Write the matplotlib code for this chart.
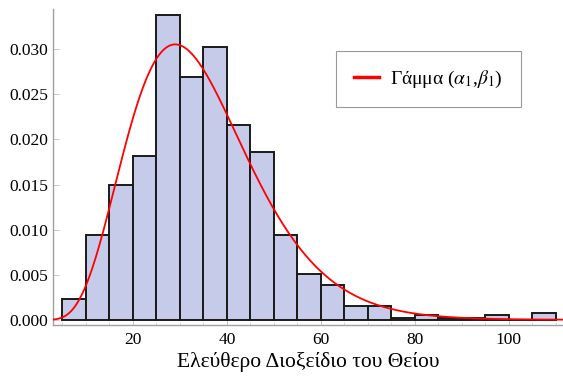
import math
import numpy as np
import matplotlib
matplotlib.use("Agg")
import matplotlib.pyplot as plt
from matplotlib.ticker import MultipleLocator

# ----------------------------------------------

bin_edges = [5, 10, 15, 20, 25, 30, 35, 40, 45, 50, 55, 60, 65, 70, 75, 80, 85, 90, 95, 100, 105, 110]
densities = [0.00232, 0.00943, 0.01497, 0.01817, 0.03385, 0.02691, 0.0303, 0.0216,
             0.01862, 0.00943, 0.00505, 0.0039, 0.00158, 0.00158, 0.00025, 0.0005,
             0.00025, 0.00025, 0.0005, 0.0, 0.0007]
gamma_alpha = 6.1
gamma_theta = 5.69

x_label = "Ελεύθερο Διοξείδιο του Θείου"
legend_label = r"Γάμμα ($\alpha_1$,$\beta_1$)"

# ----------------------------------------------

plt.rcParams['font.family'] = ['Liberation Serif', 'DejaVu Serif']
plt.rcParams['mathtext.fontset'] = 'stix'

fig = plt.figure(figsize=(5.63, 3.79), dpi=100)
ax = fig.add_axes([0.094, 0.142, 0.906, 0.835])

widths = np.diff(bin_edges)
ax.bar(bin_edges[:-1], densities, width=widths, align='edge',
       color='#c5cbe9', edgecolor='#1a1a1a', linewidth=1.4, zorder=2)

xs = np.linspace(3, 112, 600)
pdf = (xs ** (gamma_alpha - 1) * np.exp(-xs / gamma_theta)
       / (math.gamma(gamma_alpha) * gamma_theta ** gamma_alpha))
ax.plot(xs, pdf, color='#ff0000', linewidth=1.3, zorder=3, label=legend_label)

ax.set_xlim(3, 111.5)
ax.set_ylim(-0.0006, 0.0345)

for s in ['top', 'right']:
  ax.spines[s].set_visible(False)
for s in ['left', 'bottom']:
  ax.spines[s].set_color('#a0a0a0')
  ax.spines[s].set_linewidth(1.0)

ax.xaxis.set_major_locator(MultipleLocator(20))
ax.xaxis.set_minor_locator(MultipleLocator(5))
ax.yaxis.set_major_locator(MultipleLocator(0.005))
ax.yaxis.set_major_formatter(matplotlib.ticker.FormatStrFormatter('%.3f'))
ax.tick_params(which='both', direction='in', color='#c8c8c8', labelsize=12.5)
ax.tick_params(which='major', length=4, width=0.7)
ax.tick_params(which='minor', length=2, width=0.5)
ax.tick_params(axis='x', pad=5)

ax.set_xlabel(x_label, fontsize=15.5, labelpad=3)

leg = ax.legend(loc='upper left', bbox_to_anchor=(0.555, 0.866), fontsize=14,
                frameon=True, fancybox=False, borderpad=0.9, borderaxespad=0,
                handlelength=1.3, handletextpad=0.6)
leg.get_frame().set_edgecolor('#808080')
leg.get_frame().set_linewidth(0.8)
for line in leg.get_lines():
  line.set_linewidth(2.5)

fig.savefig("out.png", dpi=100)
